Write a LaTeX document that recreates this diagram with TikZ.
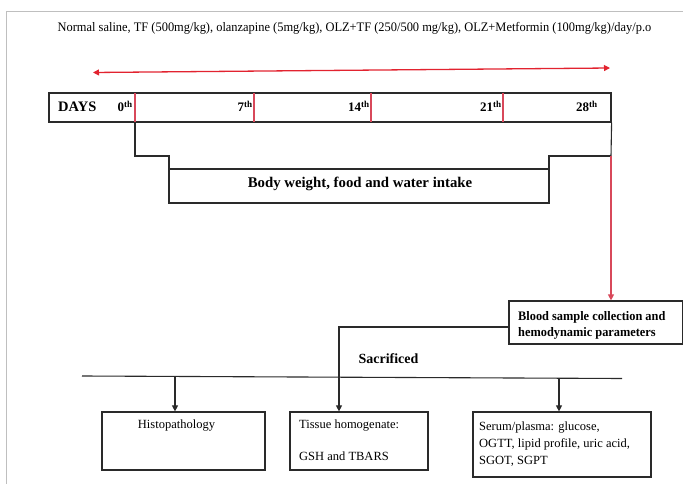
\documentclass[tikz,border=0pt]{standalone}
\usepackage{fontspec}
\setmainfont{Liberation Serif}
\usetikzlibrary{arrows.meta}
\definecolor{redl}{HTML}{E2232F}
\definecolor{redd}{HTML}{D8485A}
\definecolor{ln}{HTML}{2A2A2A}
\begin{document}
\begin{tikzpicture}[x=1pt,y=-1pt,
  box/.style={draw=ln,line width=1.2pt,inner sep=0pt,minimum width=#1},
  txt/.style={inner sep=0pt,anchor=base},
  ln/.style={draw=ln,line width=1.1pt},
  tip/.style={-{Triangle[length=6pt,width=6pt]}},
  dnum/.style={txt,anchor=base east,font=\fontsize{13}{14}\selectfont\bfseries},
  small/.style={txt,anchor=base west,font=\fontsize{12.5}{14}\selectfont},
]
\useasboundingbox (0,0) rectangle (683,484);
\draw[gray!50,line width=0.8pt] (6,484) -- (6,11) -- (683,11);
% title
\node[txt] (title) at (354.5,32) {\fontsize{13}{14}\selectfont\addfontfeature{FakeStretch=0.955}Normal saline, TF (500mg/kg), olanzapine (5mg/kg), OLZ+TF (250/500 mg/kg), OLZ+Metformin (100mg/kg)/day/p.o};
% red double arrow
\coordinate (ra) at (93,72.5);
\coordinate (rb) at (610,68);
\draw[redl,line width=1.3pt,{Triangle[length=6pt,width=6pt]}-{Triangle[length=6pt,width=6pt]}] (ra) -- (rb);
% days box
\node[box=562pt,minimum height=29pt] (days) at (330,107.5) {};
\foreach \x/\n in {135/a,254/b,371/c,503/d}{
  \coordinate (t\n) at (\x,93);
  \coordinate (u\n) at (\x,122);
  \draw[redd,line width=1.2pt] (t\n) -- (u\n);
}
\node[txt,anchor=base west] (dlab) at (58,112) {\fontsize{14.5}{15}\selectfont\bfseries DAYS};
\node[dnum] (d0) at (133,112) {0\textsuperscript{th}};
\node[dnum] (d7) at (253,112) {7\textsuperscript{th}};
\node[dnum] (d14) at (370,112) {14\textsuperscript{th}};
\node[dnum] (d21) at (502,112) {21\textsuperscript{th}};
\node[dnum] (d28) at (598,112) {28\textsuperscript{th}};
% body weight box
\node[box=380pt,minimum height=34pt] (body) at (359,186) {};
\node[txt] (bodyt) at (360,188) {\fontsize{14.8}{16}\selectfont\bfseries Body weight, food and water intake};
\coordinate (s1) at (135,156);
\coordinate (s2) at (169,156);
\coordinate (s3) at (549,156);
\coordinate (s4) at (611,156);
\draw[ln] (ua) -- (s1) -- (s2) -- (s2|-body.north);
\draw[ln] (s3|-body.north) -- (s3) -- (s4);
\draw[ln] (days.south east) -- (s4);
% blood box
\node[box=174pt,minimum height=43pt] (blood) at (596,322.5) {};
\node[txt,anchor=base west] (bl1) at (518,320) {\fontsize{13}{14}\selectfont\bfseries\addfontfeature{FakeStretch=0.95}Blood sample collection and};
\node[txt,anchor=base west] (bl2) at (518,336) {\fontsize{13}{14}\selectfont\bfseries\addfontfeature{FakeStretch=0.95}hemodynamic parameters};
\draw[redd,line width=1.2pt,tip] (s4) -- (blood.north-|s4);
% sacrificed
\node[txt] (sac) at (388.5,363) {\fontsize{14}{15}\selectfont\bfseries Sacrificed};
\coordinate (la) at (82,376);
\coordinate (lb) at (622,378.5);
\draw[ln] (la) -- (lb);
% bottom boxes
\node[box=163pt,minimum height=58pt] (histo) at (183.5,441) {};
\node[box=138pt,minimum height=58pt] (tissue) at (359,441) {};
\node[box=178pt,minimum height=65pt] (serum) at (562,444.5) {};
\node[txt] (ht) at (176.5,428) {\fontsize{12.5}{14}\selectfont Histopathology};
\node[small] (tt1) at (299,428) {Tissue homogenate:};
\node[small] (tt2) at (299,460) {GSH and TBARS};
\node[small] (st1) at (479,430) {Serum/plasma: glucose,};
\node[small] (st2) at (479,447) {OGTT, lipid profile, uric acid,};
\node[small] (st3) at (479,464) {SGOT, SGPT};
% connectors
\coordinate (h1) at (175,376.5);
\coordinate (c1) at (339,327);
\coordinate (p1) at (559,378);
\draw[ln,tip] (h1) -- (histo.north-|h1);
\draw[ln,tip] (blood.west|-c1) -- (c1) -- (tissue.north-|c1);
\draw[ln,tip] (p1) -- (serum.north-|p1);
\end{tikzpicture}
\end{document}
